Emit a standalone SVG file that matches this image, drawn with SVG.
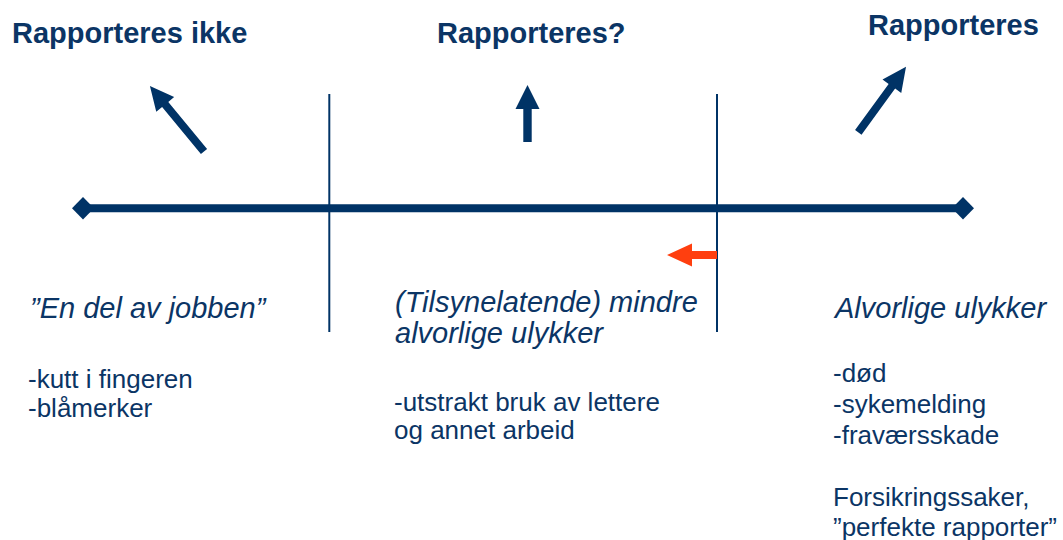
<svg xmlns="http://www.w3.org/2000/svg" width="1063" height="540" viewBox="0 0 1063 540">
<style>
.t{font-family:"Liberation Sans",Arial,sans-serif;fill:#0b3565}
.h{font-size:29px;font-weight:bold}
.i{font-size:29px;font-style:italic}
.b{font-size:26px}
.ar{fill:#003366}
</style>
<rect width="1063" height="540" fill="#ffffff"/>
<g id="connectors">
<line x1="83" y1="208.3" x2="963" y2="208.3" stroke="#003366" stroke-width="8"/>
<polygon class="ar" points="72,208.3 83,197 94,208.3 83,219.6"/>
<polygon class="ar" points="952,208.3 963,197 974,208.3 963,219.6"/>
<line x1="329.3" y1="94" x2="329.3" y2="332" stroke="#003366" stroke-width="2"/>
<line x1="717" y1="94" x2="717" y2="332" stroke="#003366" stroke-width="2"/>
<polygon class="ar" transform="translate(204,151.5) rotate(-129.5)" points="0,-4 61,-4 61,-11.6 85,0 61,11.6 61,4 0,4"/>
<polygon class="ar" transform="translate(527.5,142) rotate(-90)" points="0,-4.2 33,-4.2 33,-12 57,0 33,12 33,4.2 0,4.2"/>
<polygon class="ar" transform="translate(858.3,132.3) rotate(-53.9)" points="0,-4 57,-4 57,-11.6 81,0 57,11.6 57,4 0,4"/>
<polygon fill="#ff3f0f" transform="translate(717,255) rotate(180)" points="0,-4 25,-4 25,-11.5 50,0 25,11.5 25,4 0,4"/>
</g>
<g id="col-left">
<text class="t h" x="12" y="43">Rapporteres ikke</text>
<text class="t i" x="30" y="318">”En del av jobben”</text>
<text class="t b" x="28" y="388">-kutt i fingeren</text>
<text class="t b" x="28" y="417">-blåmerker</text>
</g>
<g id="col-mid">
<text class="t h" x="437" y="43">Rapporteres?</text>
<text class="t i" x="395" y="312">(Tilsynelatende) mindre</text>
<text class="t i" x="395" y="343">alvorlige ulykker</text>
<text class="t b" x="394" y="411">-utstrakt bruk av lettere</text>
<text class="t b" x="394" y="439">og annet arbeid</text>
</g>
<g id="col-right">
<text class="t h" x="868" y="35">Rapporteres</text>
<text class="t i" x="835" y="318">Alvorlige ulykker</text>
<text class="t b" x="833" y="382">-død</text>
<text class="t b" x="833" y="413">-sykemelding</text>
<text class="t b" x="833" y="444">-fraværsskade</text>
<text class="t b" x="833" y="506">Forsikringssaker,</text>
<text class="t b" x="833" y="536">”perfekte rapporter”</text>
</g>
</svg>
